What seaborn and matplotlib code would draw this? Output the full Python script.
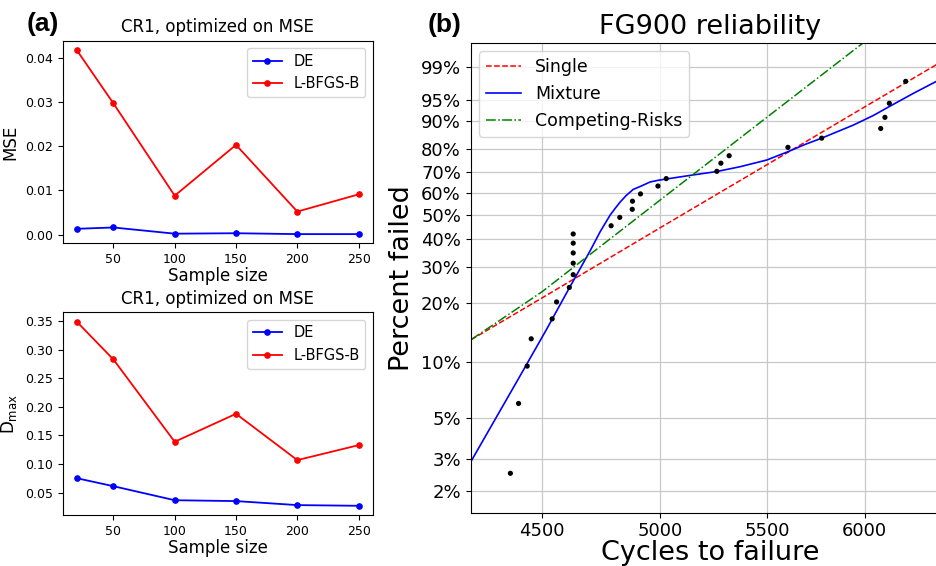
import numpy as np
import matplotlib
matplotlib.use("Agg")
import matplotlib.pyplot as plt
from matplotlib import ticker
import seaborn as sns

# left panels: CR1 results vs sample size
sample_sizes = [20, 50, 100, 150, 200, 250]
mse_de = [0.0013, 0.0016, 0.0002, 0.0003, 0.0001, 0.0001]
mse_lbfgsb = [0.0418, 0.0297, 0.0088, 0.0203, 0.0052, 0.0091]
dmax_de = [0.0755, 0.0615, 0.0370, 0.0355, 0.0285, 0.0273]
dmax_lbfgsb = [0.3488, 0.2826, 0.1390, 0.1878, 0.1070, 0.1331]

# right panel: FG900 failures (cycles, percent failed)
failure_cycles = [4376, 4408, 4442, 4458, 4542, 4560, 4612, 4628, 4628, 4628,
                  4628, 4628, 4787, 4824, 4878, 4879, 4914, 4991, 5028, 5260,
                  5279, 5318, 5604, 5775, 6087, 6110, 6134, 6224]
failure_pct = [2.5, 6.0, 9.5, 13.2, 16.7, 20.3, 23.9, 27.5, 31.1, 34.6,
               38.2, 41.8, 45.2, 48.8, 52.4, 56.1, 59.5, 63.2, 66.7, 70.1,
               73.8, 77.1, 80.6, 84.2, 87.6, 91.0, 94.4, 97.8]

single_cycles = [4226, 4500, 5000, 5500, 6000, 6417]
single_pct = [13.07, 21.2, 44.3, 73.1, 93.6, 99.22]

mixture_cycles = [4226, 4320, 4415, 4518, 4612, 4699, 4741, 4783, 4804, 4826,
                  4852, 4882, 4917, 4956, 4992, 5028, 5136, 5260, 5370, 5499,
                  5604, 5690, 5775, 5940, 6047, 6134, 6266, 6417]
mixture_pct = [2.92, 5.01, 8.48, 14.66, 23.76, 35.48, 42.81, 49.84, 52.77, 55.76,
               58.77, 61.6, 63.2, 65.1, 65.91, 66.5, 68.2, 70.0, 72.2, 75.2,
               78.8, 81.77, 84.2, 88.7, 91.5, 93.7, 96.2, 97.99]

cr_cycles = [4226, 4337, 4500, 4741, 5001, 5467, 6083]
cr_pct = [13.09, 16.48, 22.72, 36.95, 56.66, 89.51, 99.937]

pct_ticks = [2, 3, 5, 10, 20, 30, 40, 50, 60, 70, 80, 90, 95, 99]
cycle_ticks = [4500, 5000, 5500, 6000]


def weibull_fwd(p):
    p = np.clip(np.asarray(p, dtype=float), 1e-6, 100 - 1e-9)
    return np.log(-np.log(1 - p / 100))


def weibull_inv(g):
    return 100 * (1 - np.exp(-np.exp(g)))


fig = plt.figure(figsize=(9.36, 5.66), dpi=100)

ax_mse = fig.add_axes([0.0668, 0.5701, 0.3314, 0.358])
ax_dmax = fig.add_axes([0.0668, 0.0901, 0.3314, 0.3581])
ax_r = fig.add_axes([0.5029, 0.0942, 0.5121, 0.8304])

small_panels = [
    (ax_mse, mse_de, mse_lbfgsb, "MSE"),
    (ax_dmax, dmax_de, dmax_lbfgsb, r"$\mathrm{D_{max}}$"),
]

for ax, de_vals, lb_vals, ylab in small_panels:
    sns.lineplot(x=sample_sizes, y=de_vals, ax=ax, color="blue", marker="o",
                 markersize=4, markeredgecolor="blue", lw=1.3, label="DE")
    sns.lineplot(x=sample_sizes, y=lb_vals, ax=ax, color="red", marker="o",
                 markersize=4, markeredgecolor="red", lw=1.3, label="L-BFGS-B")
    ax.set_title("CR1, optimized on MSE", fontsize=12)
    ax.set_xlabel("Sample size", fontsize=12, labelpad=1)
    ax.set_ylabel(ylab, fontsize=12)
    ax.tick_params(labelsize=9)
    ax.legend(loc="upper right", fontsize=10.5)

# Weibull probability plot
sns.lineplot(x=single_cycles, y=single_pct, ax=ax_r, color="red", ls="--",
             lw=1.1, label="Single")
sns.lineplot(x=mixture_cycles, y=mixture_pct, ax=ax_r, color="blue", ls="-",
             lw=1.2, label="Mixture")
sns.lineplot(x=cr_cycles, y=cr_pct, ax=ax_r, color="green", ls="-.",
             lw=1.1, label="Competing-Risks")
sns.scatterplot(x=failure_cycles, y=failure_pct, ax=ax_r, color="black",
                s=14, edgecolor="none", zorder=3)

ax_r.set_xscale("log")
ax_r.set_yscale("function", functions=(weibull_fwd, weibull_inv))
ax_r.set_xlim(4224, 6475)
ax_r.set_ylim(1.518, 99.809)

ax_r.xaxis.set_major_locator(ticker.FixedLocator(cycle_ticks))
ax_r.xaxis.set_major_formatter(ticker.FuncFormatter(lambda v, pos: f"{v:.0f}"))
ax_r.xaxis.set_minor_locator(ticker.NullLocator())
ax_r.yaxis.set_major_locator(ticker.FixedLocator(pct_ticks))
ax_r.yaxis.set_major_formatter(ticker.FuncFormatter(lambda v, pos: f"{v:.0f}%"))
ax_r.yaxis.set_minor_locator(ticker.NullLocator())

ax_r.grid(True, color="#c8c8c8", lw=0.9)
ax_r.set_axisbelow(True)
ax_r.tick_params(labelsize=13)
ax_r.set_title("FG900 reliability", fontsize=19.5)
ax_r.set_xlabel("Cycles to failure", fontsize=19.5, labelpad=0)
ax_r.set_ylabel("Percent failed", fontsize=19.5)
ax_r.legend(loc="upper left", fontsize=12.5)

fig.text(0.046, 0.9576, "(a)", fontsize=19, fontweight="bold",
         family="Liberation Sans", ha="center", va="center")
fig.text(0.4754, 0.9564, "(b)", fontsize=19, fontweight="bold",
         family="Liberation Sans", ha="center", va="center")

fig.savefig("out.png", dpi=100)
